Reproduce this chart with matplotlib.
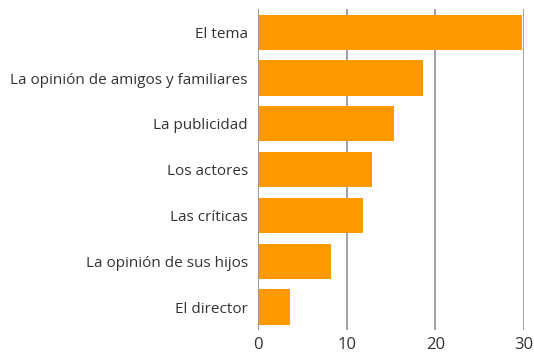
import matplotlib
matplotlib.use("Agg")
import matplotlib.pyplot as plt

categories = [
    "El tema",
    "La opinión de amigos y familiares",
    "La publicidad",
    "Los actores",
    "Las críticas",
    "La opinión de sus hijos",
    "El director",
]
values = [29.7, 18.6, 15.3, 12.9, 11.8, 8.2, 3.6]
x_ticks = [0, 10, 20, 30]

plt.rcParams["font.family"] = ["Open Sans", "DejaVu Sans"]

fig = plt.figure(figsize=(5.34, 3.55), dpi=100)
ax = fig.add_axes([0.4826, 0.0704, 0.4992, 0.9034])

pos = list(range(len(categories)))
ax.barh(pos, values, height=0.77, color="#FF9900", zorder=3)

ax.set_ylim(len(categories) - 0.5, -0.5)
ax.set_xlim(0, 30)
ax.set_yticks(pos)
ax.set_yticklabels(categories, fontsize=11, color="#333333")
ax.set_xticks(x_ticks)
ax.set_xticklabels([str(t) for t in x_ticks], fontsize=12, color="#333333")
ax.tick_params(axis="both", length=0)
ax.tick_params(axis="y", pad=7)
ax.tick_params(axis="x", pad=5)

ax.grid(axis="x", color="#999999", linewidth=1.3, zorder=0)
for s in ["top", "right", "bottom", "left"]:
    ax.spines[s].set_visible(False)
ax.axvline(0, color="#999999", linewidth=1.3, zorder=4)

fig.savefig("out.png", dpi=100)
